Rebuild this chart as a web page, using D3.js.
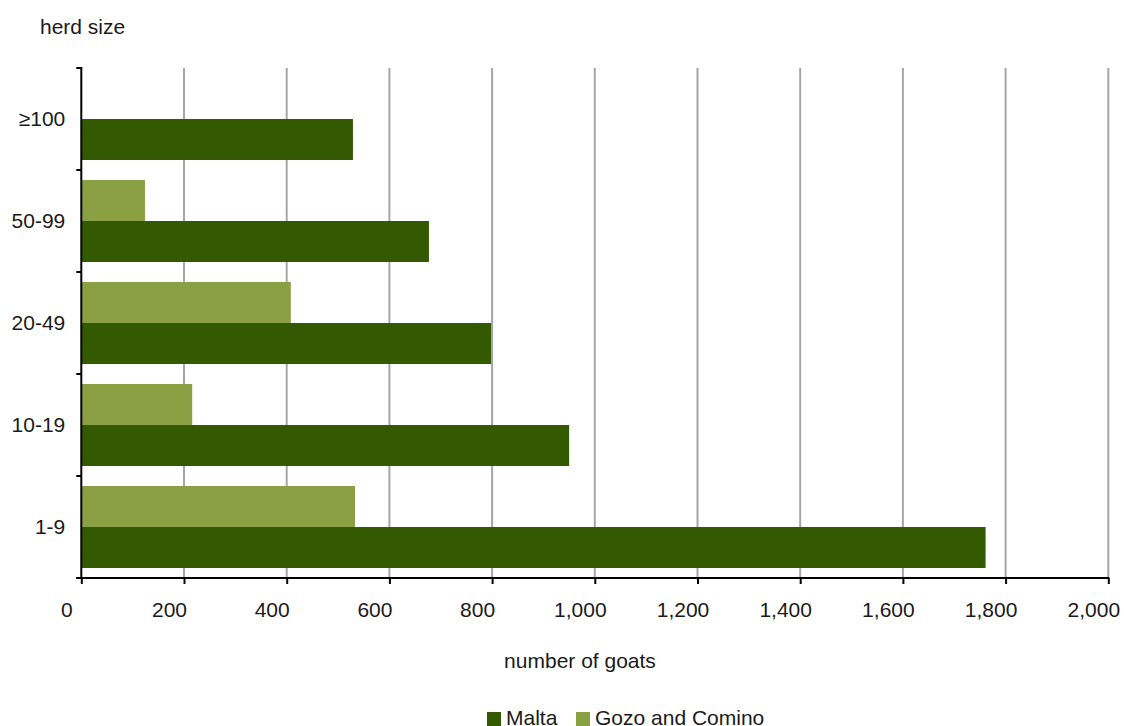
<!DOCTYPE html>
<html><head><meta charset="utf-8">
<script src="https://cdn.jsdelivr.net/npm/d3@7"></script>
<style>body{margin:0;background:#fff}svg{display:block;font-family:"Liberation Sans",Arial,sans-serif}</style>
</head><body><svg id="c" width="1124" height="726"></svg>
<script>
const categories = ["≥100","50-99","20-49","10-19","1-9"];
const seriesNames = ["Gozo and Comino","Malta"];
const malta = [529, 677, 798, 950, 1761];
const gozo = [0, 124, 408, 216, 533];
const xTicks = [0,200,400,600,800,1000,1200,1400,1600,1800,2000];
const colors = {"Malta":"#335a00","Gozo and Comino":"#8aa043"};

const FS = 21;
const svg = d3.select("#c");
const L=81.3, R=1108.3, T=68, B=578;
const x = d3.scaleLinear().domain([0,2000]).range([L,R]);
const y0 = d3.scaleBand().domain(categories).range([T,B]).padding(0);
const y1 = d3.scaleBand().domain(seriesNames).range([10, y0.bandwidth()-10]).padding(0);
const vals = {"Malta":malta,"Gozo and Comino":gozo};

// gridlines
svg.append("g").selectAll("line").data(xTicks.slice(1)).join("line")
  .attr("x1",d=>x(d)).attr("x2",d=>x(d)).attr("y1",T).attr("y2",B)
  .attr("stroke","#a6a6a6").attr("stroke-width",2);

// bars
const g = svg.append("g");
categories.forEach((c,i)=>{
  seriesNames.forEach(s=>{
    const v = vals[s][i];
    if(v>0) g.append("rect").attr("x",x(0)).attr("y",y0(c)+y1(s))
      .attr("width",x(v)-x(0)).attr("height",y1.bandwidth()).attr("fill",colors[s]);
  });
});

// x axis
const xa = svg.append("g").attr("transform",`translate(0,${B})`)
  .call(d3.axisBottom(x).tickValues(xTicks).tickSize(6).tickPadding(0).tickFormat(d3.format(",")));
xa.select(".domain").attr("stroke","#000").attr("stroke-width",2).attr("d",`M${L-5},0H${R+1}`);
xa.selectAll(".tick line").attr("stroke","#000").attr("stroke-width",2);
xa.selectAll("text").attr("font-size",FS).attr("fill","#1a1a1a")
  .attr("font-family","Liberation Sans, Arial, sans-serif")
  .attr("dy",null).attr("y",39).attr("dx",-15);

// y axis
const ya = svg.append("g").attr("transform",`translate(${L},0)`);
ya.append("line").attr("x1",0).attr("x2",0).attr("y1",T-1).attr("y2",B).attr("stroke","#000").attr("stroke-width",2);
const bounds = categories.map(c=>y0(c)).concat([B]);
ya.selectAll("line.t").data(bounds).join("line").attr("class","t")
  .attr("x1",-5).attr("x2",0).attr("y1",d=>d).attr("y2",d=>d).attr("stroke","#000").attr("stroke-width",2);
ya.selectAll("text").data(categories).join("text")
  .attr("x",-16).attr("y",d=>y0(d)+y0.bandwidth()/2).attr("dy","0.35em")
  .attr("text-anchor","end").attr("font-size",FS).attr("fill","#1a1a1a").text(d=>d);

// titles
svg.append("text").attr("x",40).attr("y",34).attr("font-size",FS).attr("fill","#1a1a1a").text("herd size");
svg.append("text").attr("x",580).attr("y",668).attr("text-anchor","middle").attr("font-size",FS).attr("fill","#1a1a1a").text("number of goats");

// legend
const leg = [{n:"Malta",x:487},{n:"Gozo and Comino",x:576}];
leg.forEach(l=>{
  svg.append("rect").attr("x",l.x).attr("y",712).attr("width",14).attr("height",14).attr("fill",colors[l.n]);
  svg.append("text").attr("x",l.x+19).attr("y",725).attr("font-size",FS).attr("fill","#1a1a1a").text(l.n);
});
</script></body></html>
